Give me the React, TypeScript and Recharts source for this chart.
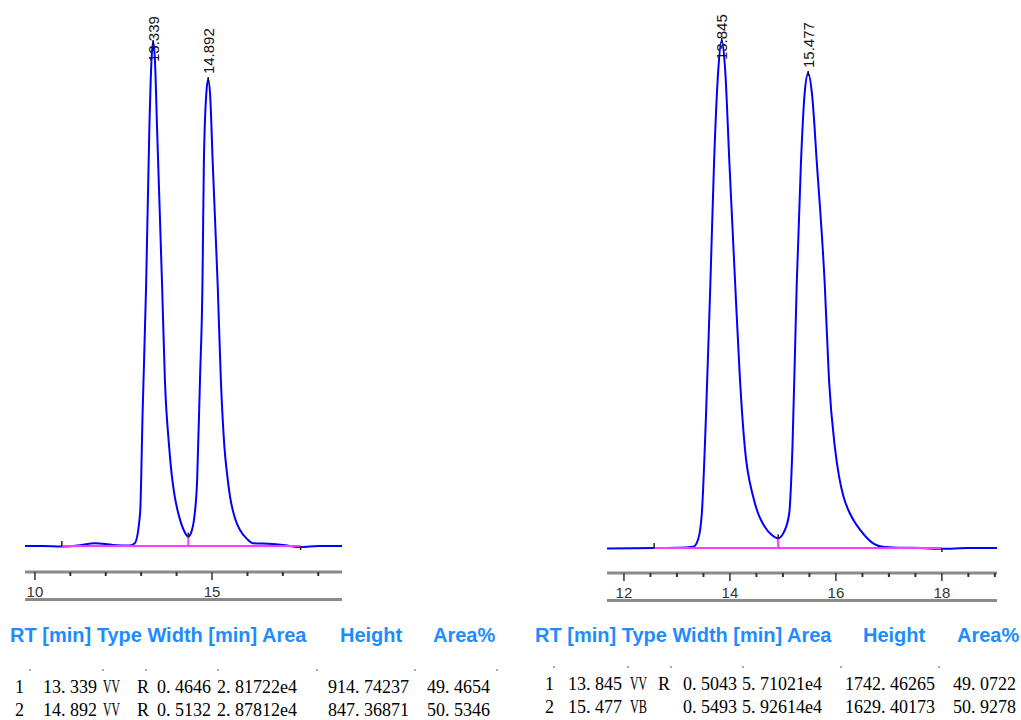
import React from "react";
import {
  ComposedChart,
  Line,
  XAxis,
  YAxis,
  ReferenceDot,
  ReferenceLine,
} from "recharts";

// ---- run A (left trace) ----
const leftTime = [
  9.72, 10.2, 10.76, 11.2, 11.7, 12.2, 12.68, 12.82, 12.97, 13.04, 13.14, 13.23,
  13.29, 13.339, 13.39, 13.45, 13.59, 13.67, 13.79, 13.87, 13.95, 14.1, 14.2,
  14.33, 14.42, 14.49, 14.58, 14.66, 14.73, 14.77, 14.84, 14.892, 14.95, 15.02,
  15.16, 15.25, 15.35, 15.43, 15.51, 15.65, 15.79, 16.0, 16.16, 16.6, 17.0, 17.5,
  18.0, 18.67,
];
const leftSignal = [
  0, 0, -1, 1, 5, 2, 1, 5, 60, 241, 474, 755, 880, 915, 880, 755, 474, 301, 180,
  125, 89, 47, 29, 17, 26, 47, 120, 301, 474, 695, 822, 847, 815, 695, 474, 301,
  180, 128, 89, 50, 29, 12, 5, 4, 2, -2, 0, 0,
];
const leftPeakRT = [13.339, 14.892];
const leftPeakHeight = [914.74237, 847.36871];
const leftPeakText = ["13.339", "14.892"];
const leftBaseStartEnd = [10.76, 17.5];
const leftValleyRT = [14.33];
const leftValleyHeight = [17];
const leftTicks = [10, 11, 12, 13, 14, 15, 16, 17, 18];
const leftMajor = [10, 15];

// ---- run B (right trace) ----
const rightTime = [
  11.68, 12.2, 12.57, 13.0, 13.31, 13.4, 13.47, 13.55, 13.63, 13.7, 13.78,
  13.845, 13.91, 13.99, 14.1, 14.19, 14.28, 14.44, 14.55, 14.66, 14.78, 14.91,
  15.02, 15.12, 15.18, 15.26, 15.34, 15.41, 15.477, 15.55, 15.64, 15.79, 15.87,
  15.98, 16.06, 16.14, 16.26, 16.35, 16.45, 16.6, 16.72, 16.88, 17.2, 17.6, 18.0,
  18.5, 19.04,
];
const rightSignal = [
  -2, -1, 0, 1, 4.5, 30, 120, 463, 902, 1321, 1640, 1742, 1640, 1321, 902, 576,
  346, 175, 110, 72, 46, 33, 55, 120, 346, 902, 1321, 1560, 1629, 1555, 1321,
  902, 576, 346, 245, 178, 120, 90, 64, 32, 14, 4, 1, 0, -3, 0, 0,
];
const rightPeakRT = [13.845, 15.477];
const rightPeakHeight = [1742.46265, 1629.40173];
const rightPeakText = ["13.845", "15.477"];
const rightBaseStartEnd = [12.57, 18.0];
const rightValleyRT = [14.91];
const rightValleyHeight = [33];
const rightTicks = [
  12, 12.5, 13, 13.5, 14, 14.5, 15, 15.5, 16, 16.5, 17, 17.5, 18, 18.5, 19,
];
const rightMajor = [12, 14, 16, 18];

// ---- peak tables ----
const tableHeader = ["RT [min] Type Width [min] Area", "Height", "Area%"];
const leftRows = [
  ["1", "13. 339", "VV", "R", "0. 4646", "2. 81722e4", "914. 74237", "49. 4654"],
  ["2", "14. 892", "VV", "R", "0. 5132", "2. 87812e4", "847. 36871", "50. 5346"],
];
const rightRows = [
  ["1", "13. 845", "VV", "R", "0. 5043", "5. 71021e4", "1742. 46265", "49. 0722"],
  ["2", "15. 477", "VB", "", "0. 5493", "5. 92614e4", "1629. 40173", "50. 9278"],
];

const SANS = "'Liberation Sans', Arial, sans-serif";
const SERIF = "'Liberation Serif', 'Times New Roman', serif";
const BLUE = "#0000ff";
const MAGENTA = "#ff3cff";
const RULER = "#8a8a8a";
// label offset (px) from peak apex to the label start, per peak
const LABEL_SHIFT = [20, -5];

const RulerTick = (props: any) => {
  const { x, y, payload, major } = props;
  const isMajor = major.includes(payload.value);
  return (
    <g>
      <line
        x1={x}
        x2={x}
        y1={y}
        y2={y + (isMajor ? 8 : 4)}
        stroke="#333"
        strokeWidth={isMajor ? 1.5 : 2}
      />
      {isMajor && (
        <text
          x={x}
          y={y + 25}
          textAnchor="middle"
          fontSize={15}
          fill="#333"
          fontFamily={SANS}
        >
          {payload.value}
        </text>
      )}
    </g>
  );
};

interface TraceProps {
  time: number[];
  signal: number[];
  peakRT: number[];
  peakHeight: number[];
  peakText: string[];
  baseStartEnd: number[];
  valleyRT: number[];
  valleyHeight: number[];
  ticks: number[];
  major: number[];
  xDomain: [number, number];
  yDomain: [number, number];
  width: number;
  height: number;
  margin: { top: number; right: number; bottom: number; left: number };
}

const Trace = (p: TraceProps) => {
  const data = p.time.map((t, i) => ({ t, v: p.signal[i] }));
  const baseData = p.baseStartEnd.map((t) => ({ t, v: 0 }));
  return (
    <ComposedChart width={p.width} height={p.height} data={data} margin={p.margin}>
      <XAxis
        dataKey="t"
        type="number"
        domain={p.xDomain}
        allowDataOverflow
        ticks={p.ticks}
        interval={0}
        height={28}
        tickSize={0}
        tickMargin={0}
        tickLine={false}
        axisLine={{ stroke: RULER, strokeWidth: 3 }}
        tick={<RulerTick major={p.major} />}
      />
      <YAxis type="number" domain={p.yDomain} allowDataOverflow hide />
      <Line
        dataKey="v"
        type="monotone"
        stroke={BLUE}
        strokeWidth={2}
        dot={false}
        isAnimationActive={false}
      />
      <Line
        data={baseData}
        dataKey="v"
        type="linear"
        stroke={MAGENTA}
        strokeWidth={2.2}
        dot={false}
        isAnimationActive={false}
      />
      {p.valleyRT.map((t, i) => (
        <ReferenceLine
          key={`drop-${i}`}
          segment={[
            { x: t, y: 0 },
            { x: t, y: p.valleyHeight[i] },
          ]}
          stroke={MAGENTA}
          strokeWidth={2}
        />
      ))}
      {p.valleyRT.map((t, i) => (
        <ReferenceDot
          key={`vm-${i}`}
          x={t}
          y={p.valleyHeight[i]}
          r={0}
          ifOverflow="visible"
          shape={(s: any) => (
            <line x1={s.cx} x2={s.cx} y1={s.cy - 4} y2={s.cy + 1} stroke="#222" strokeWidth={1.5} />
          )}
        />
      ))}
      {p.baseStartEnd.map((t, i) => (
        <ReferenceDot
          key={`bm-${i}`}
          x={t}
          y={0}
          r={0}
          ifOverflow="visible"
          shape={(s: any) =>
            i === 0 ? (
              <line x1={s.cx} x2={s.cx} y1={s.cy - 5} y2={s.cy} stroke="#222" strokeWidth={1.5} />
            ) : (
              <line x1={s.cx} x2={s.cx} y1={s.cy} y2={s.cy + 4} stroke="#222" strokeWidth={1.5} />
            )
          }
        />
      ))}
      {p.peakRT.map((t, i) => (
        <ReferenceDot
          key={`pk-${i}`}
          x={t}
          y={p.peakHeight[i]}
          r={0}
          ifOverflow="visible"
          shape={(s: any) => {
            const ly = s.cy + LABEL_SHIFT[i];
            return (
              <g>
                <line x1={s.cx} x2={s.cx} y1={s.cy - 2} y2={s.cy + 3} stroke="#111" strokeWidth={1.5} />
                <text
                  x={s.cx}
                  y={ly}
                  dy="0.36em"
                  transform={`rotate(-90 ${s.cx} ${ly})`}
                  fontSize={15}
                  fill="#111"
                  fontFamily={SANS}
                >
                  {p.peakText[i]}
                </text>
              </g>
            );
          }}
        />
      ))}
    </ComposedChart>
  );
};

const PeakTable = ({
  rows,
  headerX,
  cellX,
  rowY,
  dotX,
  dotY,
}: {
  rows: string[][];
  headerX: number[];
  cellX: number[];
  rowY: number[];
  dotX: number[];
  dotY: number;
}) => (
  <g>
    {tableHeader.map((h, i) => (
      <text
        key={h}
        x={headerX[i]}
        y={642}
        fontSize={20}
        fontWeight="bold"
        fill="#1e8cff"
        fontFamily={SANS}
      >
        {h}
      </text>
    ))}
    {dotX.map((x) => (
      <rect key={x} x={x} y={dotY} width={2} height={2} fill="#aaa" />
    ))}
    {rows.map((r, ri) =>
      r.map((c, ci) => (
        <text
          key={`${ri}-${ci}`}
          x={cellX[ci]}
          y={rowY[ri]}
          fontSize={18}
          fill="#000"
          fontFamily={SERIF}
          {...(ci === 2 && c ? { textLength: 17, lengthAdjust: "spacingAndGlyphs" } : {})}
        >
          {c}
        </text>
      ))
    )}
  </g>
);

export default function App() {
  return (
    <div
      style={{
        position: "absolute",
        left: 0,
        top: 0,
        width: 1021,
        height: 720,
        background: "#fff",
        overflow: "hidden",
        fontFamily: SANS,
      }}
    >
      <div style={{ position: "absolute", left: 0, top: 0 }}>
        <Trace
          time={leftTime}
          signal={leftSignal}
          peakRT={leftPeakRT}
          peakHeight={leftPeakHeight}
          peakText={leftPeakText}
          baseStartEnd={leftBaseStartEnd}
          valleyRT={leftValleyRT}
          valleyHeight={leftValleyHeight}
          ticks={leftTicks}
          major={leftMajor}
          xDomain={[9.72, 18.67]}
          yDomain={[-47.2, 952.8]}
          width={350}
          height={600}
          margin={{ top: 21, right: 8, bottom: 0, left: 25 }}
        />
      </div>
      <div style={{ position: "absolute", left: 590, top: 0 }}>
        <Trace
          time={rightTime}
          signal={rightSignal}
          peakRT={rightPeakRT}
          peakHeight={rightPeakHeight}
          peakText={rightPeakText}
          baseStartEnd={rightBaseStartEnd}
          valleyRT={rightValleyRT}
          valleyHeight={rightValleyHeight}
          ticks={rightTicks}
          major={rightMajor}
          xDomain={[11.68, 19.04]}
          yDomain={[-85.8, 1807.9]}
          width={431}
          height={601}
          margin={{ top: 21, right: 24, bottom: 0, left: 17 }}
        />
      </div>
      {/* lower rails of the time rulers */}
      <div style={{ position: "absolute", left: 25, top: 598, width: 317, height: 3, background: RULER }} />
      <div style={{ position: "absolute", left: 607, top: 599, width: 390, height: 3, background: RULER }} />
      <svg
        width={1021}
        height={720}
        style={{ position: "absolute", left: 0, top: 0, pointerEvents: "none" }}
      >
        <PeakTable
          rows={leftRows}
          headerX={[10, 340, 433]}
          cellX={[15, 43, 103, 137, 157, 217, 328, 427]}
          rowY={[693, 716]}
          dotX={[29, 102, 145, 217, 316, 414, 496]}
          dotY={669}
        />
        <PeakTable
          rows={rightRows}
          headerX={[535, 863, 957]}
          cellX={[545, 568, 630, 658, 683, 742, 845, 953]}
          rowY={[690, 713]}
          dotX={[553, 627, 670, 742, 840, 938]}
          dotY={666}
        />
      </svg>
    </div>
  );
}
